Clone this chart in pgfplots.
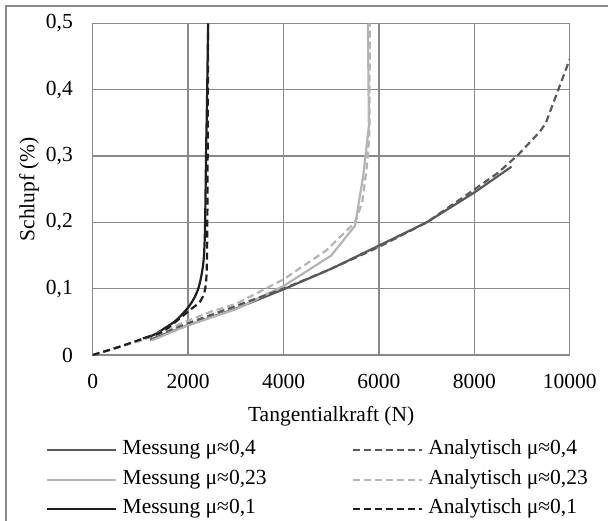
\documentclass[border=0pt]{standalone}
\usepackage{pgfplots}
\pgfplotsset{compat=1.18}
\usepackage{fontspec}
\setmainfont{Liberation Serif}
\definecolor{gridc}{HTML}{898989}
\definecolor{cA}{HTML}{595959}
\definecolor{cB}{HTML}{B4B4B4}
\definecolor{cC}{HTML}{1F1F1F}
\begin{document}
\begin{tikzpicture}
\useasboundingbox (-92.7pt,-165pt) rectangle (515.3pt,355pt);
\draw[gridc, line width=1.3pt] (-86.7pt,-175pt) -- (-86.7pt,349pt) -- (525pt,349pt);
\begin{axis}[
 scale only axis, width=477pt, height=331.5pt,
 at={(0pt,0pt)}, anchor=south west,
 xmin=0, xmax=10000, ymin=0, ymax=0.5,
 xtick={0,2000,4000,6000,8000,10000},
 ytick={0,0.1,0.2,0.3,0.4,0.5},
 scaled x ticks=false, scaled y ticks=false,
 grid=major, major grid style={gridc, line width=1.3pt},
 axis line style={gridc, line width=1.3pt},
 major tick length=0pt,
 font=\fontsize{21.5}{25}\selectfont,
 /pgf/number format/assume math mode=true,
 xticklabel style={/pgf/number format/1000 sep={}, anchor=north, inner sep=0pt, yshift=-19pt},
 yticklabel style={/pgf/number format/use comma, /pgf/number format/fixed, anchor=east, inner sep=0pt, xshift=-19.7pt},
 xlabel={Tangentialkraft (N)},
 ylabel={Schlupf (\%)},
 xlabel style={at={(axis description cs:0.5,-0.154)}, anchor=north, inner sep=0pt},
 ylabel style={at={(axis description cs:-0.112,0.5)}, anchor=south, inner sep=0pt},
 legend columns=2,
 legend cell align=left,
 legend style={draw=none, fill=none, inner sep=0pt, outer sep=0pt,
   at={(axis description cs:0,0)}, anchor=north west, xshift=-46.7pt, yshift=-85.5pt,
   row sep=10.6pt, font=\fontsize{21.5}{25}\selectfont,
   nodes={inner sep=0pt, text height=14pt, text depth=5pt},
   /tikz/every odd column/.append style={column sep=5.5pt},
   /tikz/every even column/.append style={column sep=85pt}},
 legend image code/.code={\draw[#1] (0pt,0pt) -- (69pt,0pt);},
 every axis plot/.append style={line width=2.2pt, line cap=butt, line join=round},
]
% Messung mu=0.4
\addplot[cA, forget plot] coordinates {(1200,0.023) (2000,0.045) (3000,0.07) (4000,0.099) (5000,0.13) (6000,0.165) (7000,0.2) (8000,0.245) (8780,0.284)};
% Messung mu=0.23
\addplot[cB, forget plot] coordinates {(1240,0.022) (2000,0.045) (2500,0.057) (3000,0.069) (4000,0.104) (5000,0.15) (5500,0.195) (5670,0.27) (5790,0.345) (5770,0.5)};
% Messung mu=0.1
\addplot[cC, forget plot, smooth] coordinates {(1050,0.025) (1270,0.030) (1500,0.04) (1760,0.053) (2040,0.0755) (2213,0.1) (2318,0.138) (2354,0.19) (2376,0.3) (2400,0.4) (2420,0.5)};
% Analytisch mu=0.4
\addplot[cA, dash pattern=on 7pt off 4pt, forget plot] coordinates {(0,0) (1000,0.022) (2000,0.048) (3000,0.074) (4000,0.1) (5000,0.13) (6000,0.163) (7000,0.2) (7750,0.237) (8500,0.275) (8920,0.302) (9377,0.337) (9500,0.35) (9760,0.40) (10000,0.446)};
% Analytisch mu=0.23
\addplot[cB, dash pattern=on 7pt off 4pt, forget plot] coordinates {(0,0) (1000,0.022) (2000,0.052) (2500,0.066) (3000,0.077) (4000,0.114) (4900,0.158) (5500,0.2) (5650,0.23) (5740,0.28) (5800,0.33) (5810,0.5)};
% Analytisch mu=0.1
\addplot[cC, dash pattern=on 7pt off 4pt, forget plot, smooth] coordinates {(0,0) (500,0.011) (1132,0.0267) (1500,0.037) (2040,0.068) (2249,0.0805) (2354,0.098) (2390,0.128) (2402,0.19) (2410,0.3) (2420,0.5)};
\addlegendimage{cA, line width=2.2pt}
\addlegendentry{Messung μ≈0,4}
\addlegendimage{cA, line width=2.2pt, dash pattern=on 7pt off 4pt}
\addlegendentry{Analytisch μ≈0,4}
\addlegendimage{cB, line width=2.2pt}
\addlegendentry{Messung μ≈0,23}
\addlegendimage{cB, line width=2.2pt, dash pattern=on 7pt off 4pt}
\addlegendentry{Analytisch μ≈0,23}
\addlegendimage{cC, line width=2.2pt}
\addlegendentry{Messung μ≈0,1}
\addlegendimage{cC, line width=2.2pt, dash pattern=on 7pt off 4pt}
\addlegendentry{Analytisch μ≈0,1}
\end{axis}
\end{tikzpicture}
\end{document}
